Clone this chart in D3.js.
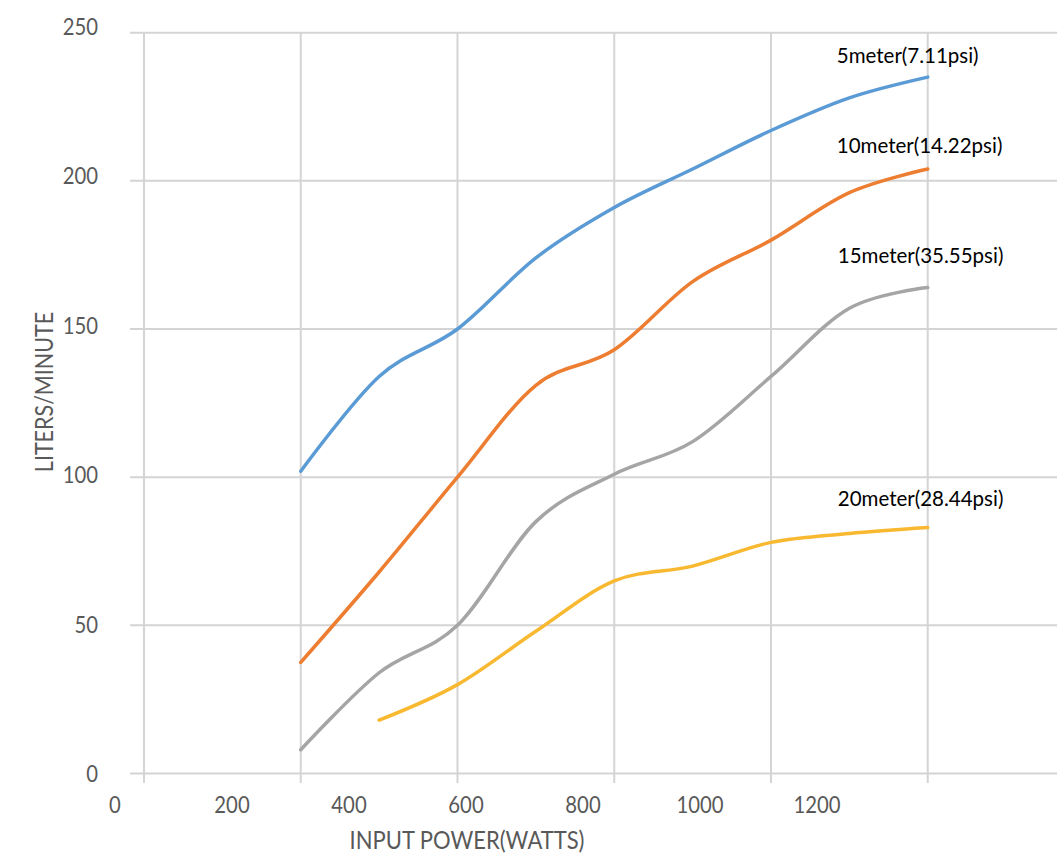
<!DOCTYPE html>
<html><head><meta charset="utf-8">
<script src="https://cdn.jsdelivr.net/npm/d3@7"></script>
<style>
html,body{margin:0;padding:0;background:#fff;}
svg{display:block;}
text{font-family:Lato,"Open Sans",sans-serif;}
</style>
</head><body>
<svg id="chart" width="1057" height="855"></svg>
<script>
// ---------- data ----------
const powerWatts   = [200, 300, 400, 500, 600, 700, 800, 900, 1000];
const flow5m       = [102, 134, 150, 174, 191, 204, 217, 228, 235];
const flow10m      = [37.5, 68, 100, 131, 143, 166, 180, 196, 204];
const flow15m      = [8, 34, 50, 85, 101, 112, 134, 157, 164];
const powerWatts20 = [300, 400, 500, 600, 700, 800, 900, 1000];
const flow20m      = [18, 30, 48, 65, 70, 78, 81, 83];
const seriesNames  = ["5meter(7.11psi)", "10meter(14.22psi)", "15meter(35.55psi)", "20meter(28.44psi)"];
const xTickLabels  = ["0", "200", "400", "600", "800", "1000", "1200"];
const yTickValues  = [0, 50, 100, 150, 200, 250];
const xGridValues  = [0, 200, 400, 600, 800, 1000, 1200];
const xTitle = "INPUT POWER(WATTS)";
const yTitle = "LITERS/MINUTE";

// ---------- styles / layout ----------
const colors = ["#5B9BD5", "#ED7D31", "#A5A5A5", "#F8B830"];
const labelOffsets = [[-91, -14], [-91, -16], [-90, -25], [-90, -22]];
const gridColor = "#D4D4D4";
const tickColor = "#595959";

const series = [
  {name: seriesNames[0], xs: powerWatts,   ys: flow5m},
  {name: seriesNames[1], xs: powerWatts,   ys: flow10m},
  {name: seriesNames[2], xs: powerWatts,   ys: flow15m},
  {name: seriesNames[3], xs: powerWatts20, ys: flow20m}
].map((s, i) => ({name: s.name, color: colors[i], off: labelOffsets[i],
  pts: s.xs.map((x, j) => ({x, y: s.ys[j]}))}));

const svg = d3.select("#chart");
const x = d3.scaleLinear().domain([0, 1200]).range([144, 1084.5]);
const y = d3.scaleLinear().domain([0, 250]).range([773.5, 32.7]);
// tick-label positions (the labels in the source sit on their own spacing)
const xLab = d3.scalePoint().domain(xTickLabels).range([115, 817]);
const yLab = d3.scaleLinear().domain([0, 250]).range([782, 35]);

// gridlines
const grid = svg.append("g");
grid.selectAll("line.h").data(yTickValues).join("line")
  .attr("class", "h")
  .attr("x1", 130).attr("x2", x(1200))
  .attr("y1", d => y(d)).attr("y2", d => y(d))
  .attr("stroke", gridColor).attr("stroke-width", 2);
grid.selectAll("line.v").data(xGridValues).join("line")
  .attr("class", "v")
  .attr("x1", d => x(d)).attr("x2", d => x(d))
  .attr("y1", y(250)).attr("y2", 783)
  .attr("stroke", gridColor).attr("stroke-width", 2);

// tick labels
svg.append("g").selectAll("text").data(xTickLabels).join("text")
  .attr("transform", d => `translate(${xLab(d)},813) scale(1,1.1)`)
  .attr("text-anchor", "middle")
  .attr("font-size", 20.3).attr("fill", tickColor)
  .text(d => d);
svg.append("g").selectAll("text").data(yTickValues).join("text")
  .attr("transform", d => `translate(98,${yLab(d)}) scale(1,1.1)`)
  .attr("text-anchor", "end")
  .attr("font-size", 20.3).attr("fill", tickColor)
  .text(d => d);

// axis titles
svg.append("text")
  .attr("transform", "translate(467,849) scale(1,1.13)")
  .attr("text-anchor", "middle").attr("font-size", 22).attr("fill", tickColor)
  .text(xTitle);
svg.append("text")
  .attr("transform", "translate(53,392) rotate(-90) scale(1,1.13)")
  .attr("text-anchor", "middle").attr("font-size", 21.5).attr("fill", tickColor)
  .text(yTitle);

// lines
const line = d3.line().x(d => x(d.x)).y(d => y(d.y)).curve(d3.curveCardinal.tension(0));
svg.append("g").selectAll("path").data(series).join("path")
  .attr("d", d => line(d.pts))
  .attr("fill", "none").attr("stroke", d => d.color)
  .attr("stroke-width", 3.5).attr("stroke-linecap", "round");

// series labels
svg.append("g").selectAll("text").data(series).join("text")
  .attr("x", d => x(d.pts[d.pts.length - 1].x) + d.off[0])
  .attr("y", d => y(d.pts[d.pts.length - 1].y) + d.off[1])
  .attr("font-size", 20.5).attr("fill", "#000")
  .text(d => d.name);
</script>
</body></html>
